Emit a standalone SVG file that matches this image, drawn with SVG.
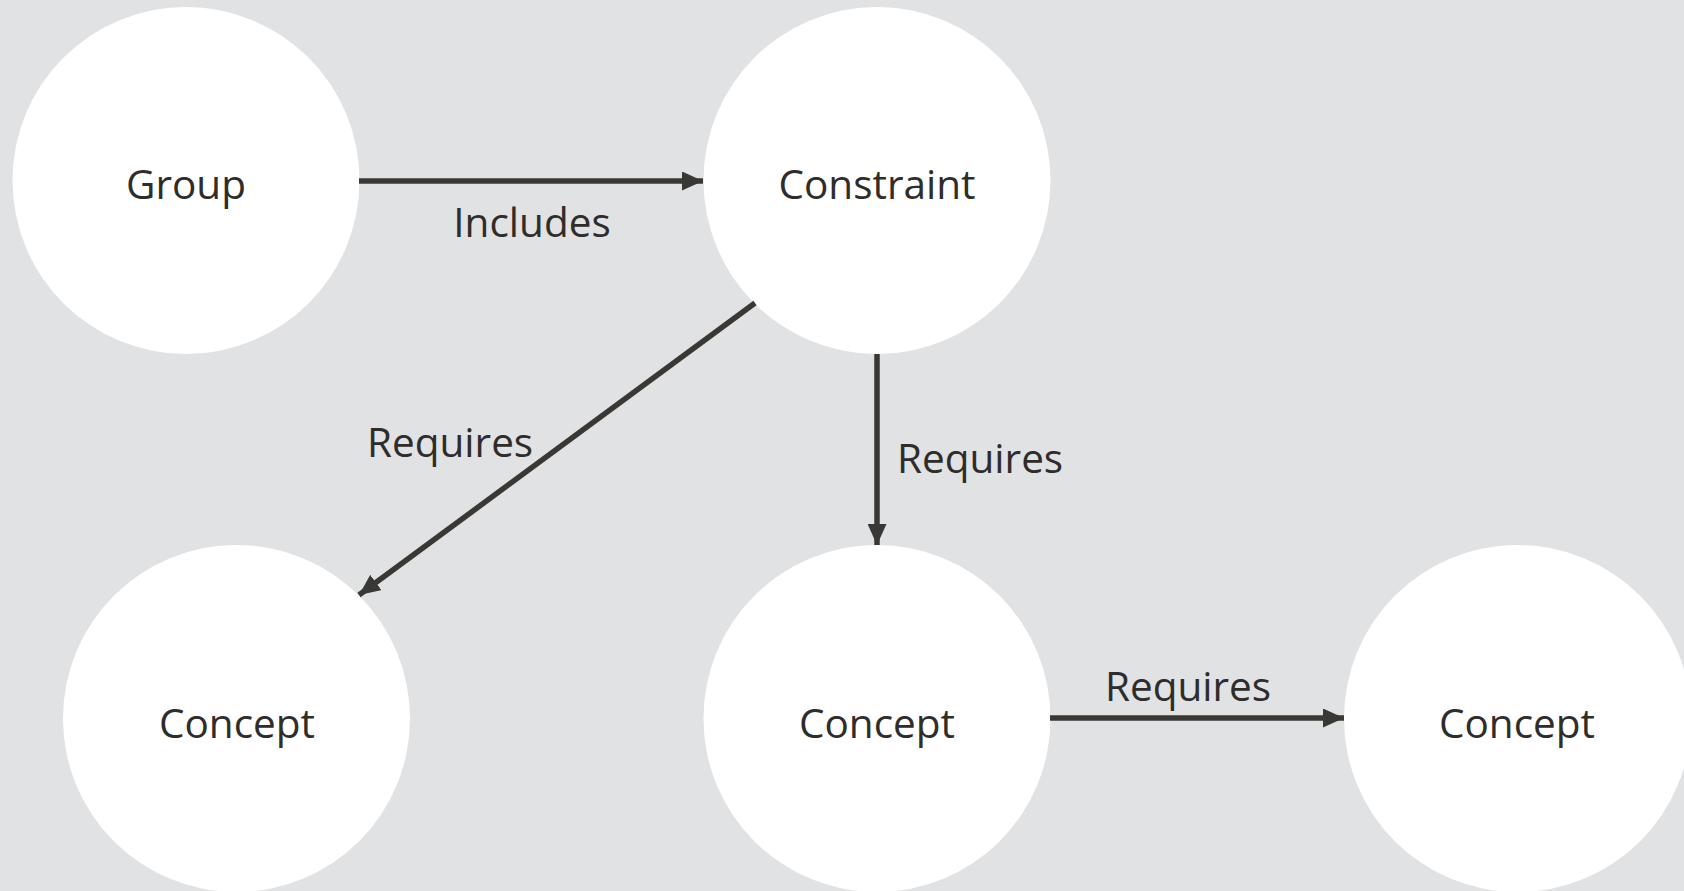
<svg xmlns="http://www.w3.org/2000/svg" width="1684" height="891" viewBox="0 0 1684 891">
<style>
.node{fill:#ffffff;}
.lbl{font-family:"Open Sans","Noto Sans",sans-serif;font-size:40.5px;fill:#2f2d2b;}
.mid{text-anchor:middle;}
.edge{stroke:#3a3835;stroke-width:5.5;fill:none;}
</style>
<defs>
<marker id="arr" markerUnits="userSpaceOnUse" markerWidth="21" markerHeight="19" viewBox="0 0 21 19" refX="21" refY="9.5" orient="auto">
<path d="M0,0 L21,9.5 L0,19 Z" fill="#3a3835"/>
</marker>
</defs>
<rect width="1684" height="891" fill="#e1e2e4"/>
<g id="node-group"><circle class="node" cx="186" cy="180.5" r="173.5"/><text class="lbl mid" x="186" y="199">Group</text></g>
<g id="node-constraint"><circle class="node" cx="877" cy="180.5" r="173.5"/><text class="lbl mid" x="877" y="199">Constraint</text></g>
<g id="node-concept1"><circle class="node" cx="236.5" cy="718.5" r="173.5"/><text class="lbl mid" x="237" y="738">Concept</text></g>
<g id="node-concept2"><circle class="node" cx="877" cy="718.5" r="173.5"/><text class="lbl mid" x="877" y="738">Concept</text></g>
<g id="node-concept3"><circle class="node" cx="1517.5" cy="718.5" r="173.5"/><text class="lbl mid" x="1517" y="738">Concept</text></g>
<g id="connectors">
<line class="edge" x1="359" y1="181" x2="703" y2="181" marker-end="url(#arr)"/>
<text class="lbl mid" x="532" y="237">Includes</text>
<line class="edge" x1="755" y1="303" x2="359" y2="595" marker-end="url(#arr)"/>
<text class="lbl" x="367" y="457">Requires</text>
<line class="edge" x1="877" y1="354" x2="877" y2="545" marker-end="url(#arr)"/>
<text class="lbl" x="897" y="473">Requires</text>
<line class="edge" x1="1050" y1="718" x2="1344" y2="718" marker-end="url(#arr)"/>
<text class="lbl mid" x="1188" y="701">Requires</text>
</g>
</svg>
